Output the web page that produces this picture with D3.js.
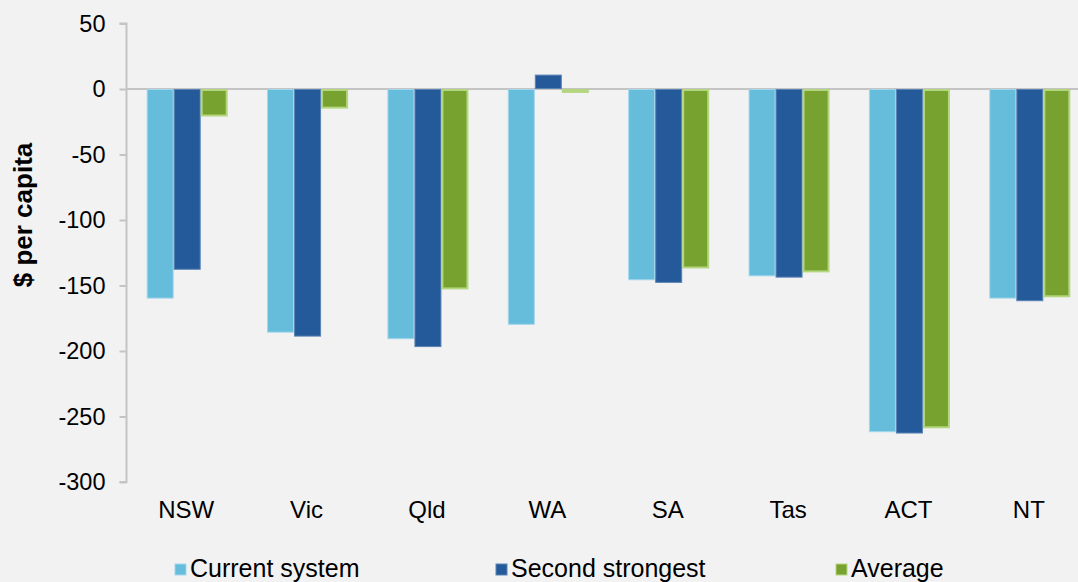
<!DOCTYPE html>
<html>
<head>
<meta charset="utf-8">
<script src="https://cdn.jsdelivr.net/npm/d3@7"></script>
<style>
html,body{margin:0;padding:0;background:#f2f2f2;overflow:hidden;}
svg{display:block;font-family:"Liberation Sans",Arial,sans-serif;}
</style>
</head>
<body>
<svg id="chart" width="1078" height="582"></svg>
<script>
const categories = ["NSW","Vic","Qld","WA","SA","Tas","ACT","NT"];
const seriesNames = ["Current system","Second strongest","Average"];
const currentSystem = [-160,-186,-191,-180,-146,-143,-262,-160];
const secondStrongest = [-138,-189,-197,11,-148,-144,-263,-162];
const average = [-21,-15,-153,-3,-137,-140,-259,-159];
const yTicks = [50,0,-50,-100,-150,-200,-250,-300];

const seriesValues = [currentSystem, secondStrongest, average];
const fills = ["#65bcdb","#255a9a","#78a22f"];
const strokes = ["#a3d6ec","#5a83b5","#b3d67e"];
const strokeW = [1,1,2];

const svg = d3.select("#chart");
svg.append("rect").attr("width",1078).attr("height",582).attr("fill","#f2f2f2");

const x0 = d3.scaleBand().domain(categories).range([127,1090]).paddingInner(0.327).paddingOuter(0.1635);
const x1 = d3.scaleBand().domain(seriesNames).range([0,x0.bandwidth()]);
const y = d3.scaleLinear().domain([-300,50]).range([482,23.5]);

// zero line
svg.append("line").attr("x1",127).attr("x2",1078).attr("y1",y(0)).attr("y2",y(0))
  .attr("stroke","#c4c4c4").attr("stroke-width",2);

// bars
const groups = svg.selectAll("g.grp").data(categories).enter().append("g")
  .attr("transform",d=>`translate(${x0(d)},0)`);
seriesNames.forEach((s,si)=>{
  groups.append("rect")
    .attr("x",(d,i)=>x1(s)+strokeW[si]/2)
    .attr("width",x1.bandwidth()-strokeW[si])
    .attr("y",(d,i)=>Math.min(y(0),y(seriesValues[si][i]))+strokeW[si]/2)
    .attr("height",(d,i)=>Math.max(0,Math.abs(y(seriesValues[si][i])-y(0))-strokeW[si]))
    .attr("fill",fills[si])
    .attr("stroke",strokes[si])
    .attr("stroke-width",strokeW[si]);
});

// y axis
const yAxis = d3.axisLeft(y).tickValues(yTicks).tickSize(7).tickPadding(14).tickFormat(d=>String(d));
const ga = svg.append("g").attr("transform","translate(126.5,0)").call(yAxis);
ga.select(".domain").attr("stroke","#c4c4c4").attr("stroke-width",2).attr("d",`M-7,${y(50)}H0V${y(-300)}H-7`);
ga.selectAll(".tick line").attr("stroke","#c4c4c4").attr("stroke-width",2);
ga.selectAll(".tick text").attr("font-size","23.5px").attr("fill","#000").attr("font-family","Liberation Sans, Arial, sans-serif");

// x labels
svg.append("g").selectAll("text").data(categories).enter().append("text")
  .attr("x",d=>x0(d)+x0.bandwidth()/2-1)
  .attr("y",518)
  .attr("text-anchor","middle")
  .attr("font-size","24px")
  .attr("fill","#000")
  .text(d=>d);

// y title
svg.append("text").attr("transform","translate(32,215) rotate(-90)")
  .attr("text-anchor","middle").attr("font-size","26px").attr("font-weight","bold")
  .attr("fill","#000").text("$ per capita");

// legend
const legendX = [174,495,835];
const lg = svg.append("g");
seriesNames.forEach((s,i)=>{
  lg.append("rect").attr("x",legendX[i]+1).attr("y",564).attr("width",11).attr("height",11)
    .attr("fill",fills[i]).attr("stroke",strokes[i]).attr("stroke-width",1);
  lg.append("text").attr("x",legendX[i]+16).attr("y",577).attr("font-size","25px").attr("fill","#000").text(s);
});
</script>
</body>
</html>
